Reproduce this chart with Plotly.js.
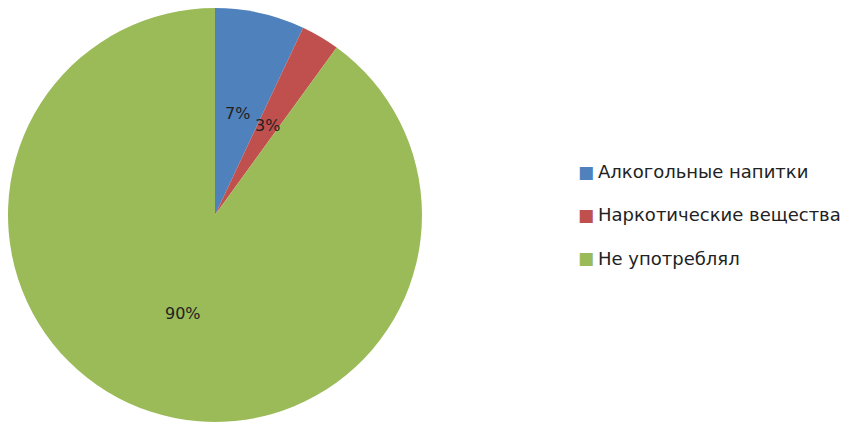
<!DOCTYPE html>
<html>
<head>
<meta charset="utf-8">
<script src="https://cdn.plot.ly/plotly-3.0.1.min.js"></script>
<style>html,body{margin:0;padding:0;background:#fff;}#chart{width:847px;height:423px;}</style>
</head>
<body>
<div id="chart"></div>
<script>
const labels = ["Алкогольные напитки", "Наркотические вещества", "Не употреблял"];
const values = [7, 3, 90];
const colors = ["#4F81BD", "#C0504D", "#9BBB59"];

const W = 847, H = 423;
const cx = 215, cy = 215, r = 207;
const font = "DejaVu Sans, sans-serif";

const total = values.reduce((a, b) => a + b, 0);
const annotations = [];
let cum = 0;
values.forEach((v, i) => {
  const mid = (cum + v / 2) / total * 2 * Math.PI;
  cum += v;
  const px = cx + 0.5 * r * Math.sin(mid);
  const py = cy - 0.5 * r * Math.cos(mid);
  annotations.push({
    x: px / W, y: 1 - py / H, xref: "paper", yref: "paper",
    xanchor: "center", yanchor: "middle",
    text: Math.round(v / total * 100) + "%", showarrow: false,
    font: {family: font, size: 16, color: "#222"}
  });
});
// legend as annotations
labels.forEach((lab, i) => {
  const yy = 1 - (172 + 43 * i) / H;
  annotations.push({
    x: 586 / W, y: yy, xref: "paper", yref: "paper",
    xanchor: "center", yanchor: "middle",
    text: "■", showarrow: false,
    font: {family: font, size: 17, color: colors[i]}
  });
  annotations.push({
    x: 596 / W, y: yy, xref: "paper", yref: "paper",
    xanchor: "left", yanchor: "middle",
    text: lab, showarrow: false,
    font: {family: font, size: 18, color: "#222"}
  });
});

const data = [{
  type: "pie",
  labels: labels,
  values: values,
  sort: false,
  direction: "clockwise",
  rotation: 0,
  textinfo: "none",
  marker: {colors: colors, line: {width: 0}},
  domain: {x: [(cx - r) / W, (cx + r) / W], y: [1 - (cy + r) / H, 1 - (cy - r) / H]},
  showlegend: false,
  hoverinfo: "label+percent"
}];

const layout = {
  width: W, height: H,
  margin: {l: 0, r: 0, t: 0, b: 0},
  paper_bgcolor: "#fff",
  showlegend: false,
  annotations: annotations
};

Plotly.newPlot("chart", data, layout, {displayModeBar: false, staticPlot: true});
</script>
</body>
</html>
